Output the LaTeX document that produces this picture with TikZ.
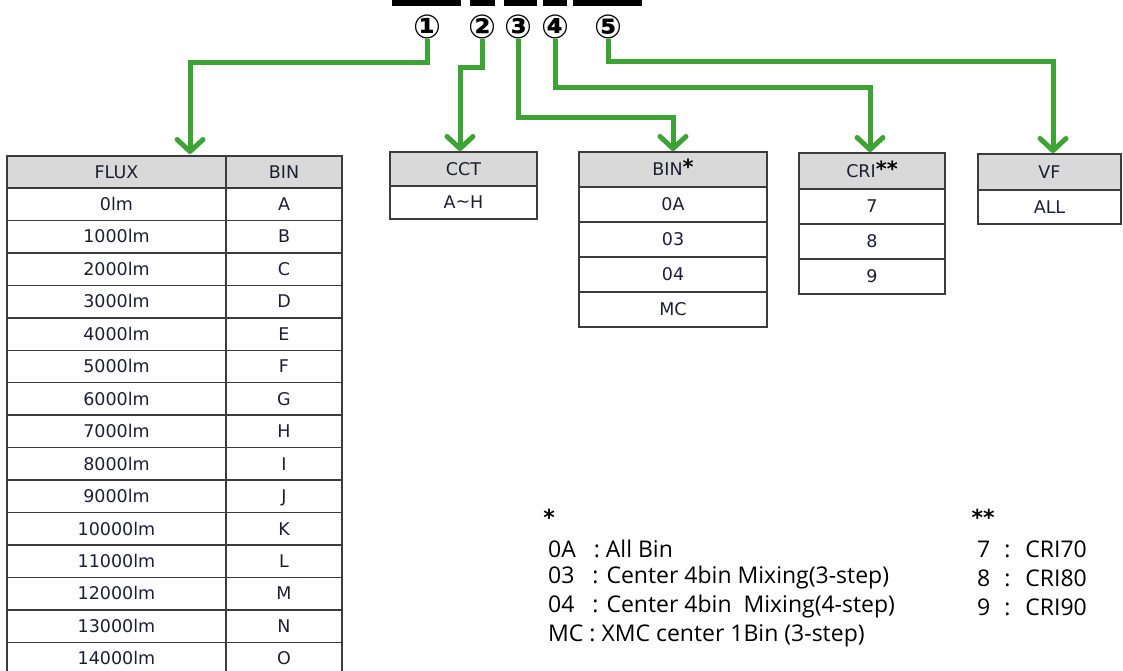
\documentclass[tikz,border=0pt]{standalone}
\usepackage{fontspec}
\setmainfont{DejaVu Sans}
\newfontfamily\legfont{Open Sans}
\usetikzlibrary{arrows.meta}
\definecolor{garr}{RGB}{60,163,52}
\definecolor{tline}{RGB}{60,60,60}
\definecolor{hgray}{RGB}{217,217,217}
\definecolor{ttext}{RGB}{30,30,50}
\begin{document}
\begin{tikzpicture}[x=1pt,y=-1pt,
 cell/.style={draw=tline, line width=1.4pt, inner sep=0pt, text=ttext,
   font=\fontsize{17.5}{18}\selectfont, text height=12.6pt, text depth=0pt},
 head/.style={cell, fill=hgray},
 garrow/.style={draw=garr, line width=5pt, line join=miter,
   -{Straight Barb[length=12pt,width=26pt,round]}},
 leg/.style={anchor=west, inner sep=0pt, font=\legfont\fontsize{23}{24}\selectfont},
 circ/.style={inner sep=0pt, font=\fontsize{33}{33}\selectfont\bfseries},
 star/.style={inner sep=0pt, font=\fontsize{22}{22}\selectfont\bfseries}
]
\clip (0,0) rectangle (1123,671);
% top bars
\fill (392,0) rectangle (461,6);
\fill (470,0) rectangle (495,6);
\fill (504,0) rectangle (537,6);
\fill (543,0) rectangle (567,6);
\fill (573,0) rectangle (642,6);
% circled numbers
\node[circ] (c1) at (427,27) {①};
\node[circ] (c2) at (482,27) {②};
\node[circ] (c3) at (518,27) {③};
\node[circ] (c4) at (555,27) {④};
\node[circ] (c5) at (608,27) {⑤};
% FLUX table
\node[head, minimum width=219pt, minimum height=32pt] (fluxh) at (116.5,172) {FLUX};
\node[head, minimum width=116pt, minimum height=32pt] (binh) at (284,172) {BIN};
\foreach \f/\b [count=\i from 0] in {0lm/A,1000lm/B,2000lm/C,3000lm/D,4000lm/E,5000lm/F,6000lm/G,7000lm/H,8000lm/I,9000lm/J,10000lm/K,11000lm/L,12000lm/M,13000lm/N,14000lm/O} {
  \node[cell, minimum width=219pt, minimum height=32.45pt] (flux\i) at (116.5,{188+32.45*(\i+0.5)}) {\f};
  \node[cell, minimum width=116pt, minimum height=32.45pt] (fbin\i) at (284,{188+32.45*(\i+0.5)}) {\b};
}
% CCT table
\node[head, minimum width=147pt, minimum height=34pt] (ccth) at (463.5,169) {CCT};
\node[cell, minimum width=147pt, minimum height=33pt] (cct1) at (463.5,202.5) {A\raisebox{1pt}{\textasciitilde}H};
% BIN table
\node[head, minimum width=188pt, minimum height=35pt] (bh) at (673,169.5) {BIN{\color{black}\bfseries\fontsize{21}{21}\selectfont\raisebox{1pt}{*}}};
\foreach \t [count=\i] in {0A,03,04,MC} {
  \node[cell, minimum width=188pt, minimum height=35pt] (b\i) at (673,{187+35*(\i-0.5)}) {\t};
}
% CRI table
\node[head, minimum width=146pt, minimum height=36pt] (crih) at (872,171) {CRI{\color{black}\bfseries\fontsize{21}{21}\selectfont\raisebox{1pt}{**}}};
\foreach \t [count=\i] in {7,8,9} {
  \node[cell, minimum width=146pt, minimum height=35pt] (cr\i) at (872,{189+35*(\i-0.5)}) {\t};
}
% VF table
\node[head, minimum width=143pt, minimum height=36pt] (vfh) at (1049.5,172) {VF};
\node[cell, minimum width=143pt, minimum height=34pt] (vf1) at (1049.5,207) {ALL};
% arrow bends / tips
\coordinate (k1) at (190,63);  \coordinate (t1) at (190,154);
\coordinate (k2) at (460,68);  \coordinate (t2) at (460,151);
\coordinate (k3) at (673,118); \coordinate (t3) at (673,151);
\coordinate (k4) at (870,88);  \coordinate (t4) at (870,152);
\coordinate (k5) at (1053,62); \coordinate (t5) at (1053,153);
\draw[garrow] ([yshift=-12pt]c1.center) |- (k1) -- (t1);
\draw[garrow] ([yshift=-12pt]c2.center) |- (k2) -- (t2);
\draw[garrow] ([yshift=-12pt]c3.center) |- (k3) -- (t3);
\draw[garrow] ([yshift=-12pt]c4.center) |- (k4) -- (t4);
\draw[garrow] ([yshift=-12pt]c5.center) |- (k5) -- (t5);
% legends
\node[star] (s1) at (549,517) {*};
\node[leg] (l1) at (548,549) {0A\ \ \ : All Bin};
\node[leg] (l2) at (548,578) {03\ \ \ : Center 4bin Mixing(3-step)};
\node[leg] (l3) at (548,607) {04\ \ \ : Center 4bin\ \ Mixing(4-step)};
\node[leg] (l4) at (548,636) {MC : XMC center 1Bin (3-step)};
\node[star] (s2) at (983,517) {**};
\node[leg] (r1) at (977,549) {7\ \ \hspace{2pt}:\ \ \hspace{3pt}CRI70};
\node[leg] (r2) at (977,578) {8\ \ \hspace{2pt}:\ \ \hspace{3pt}CRI80};
\node[leg] (r3) at (977,607) {9\ \ \hspace{2pt}:\ \ \hspace{3pt}CRI90};
\end{tikzpicture}
\end{document}
